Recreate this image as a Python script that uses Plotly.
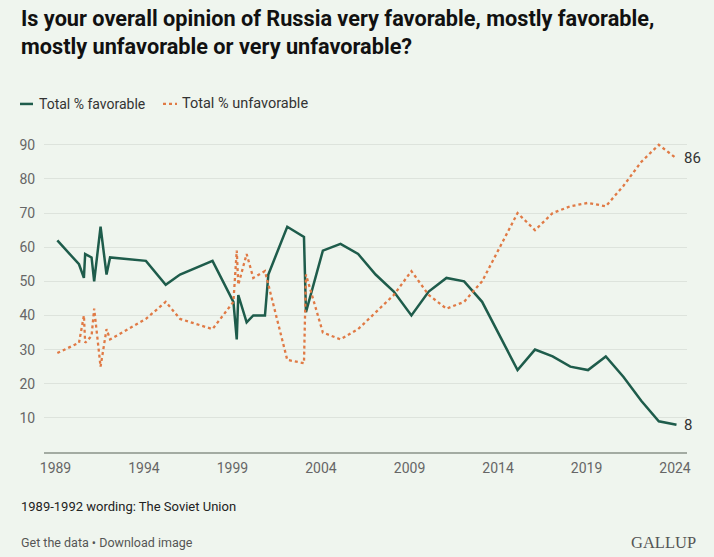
import plotly.graph_objects as go
import pandas as pd

# ---- data ----
poll_dates = ["1989-02-08", "1990-05-01", "1990-08-10", "1990-09-05", "1991-01-15",
              "1991-03-10", "1991-07-20", "1991-11-20", "1992-02-01", "1994-02-10",
              "1995-03-25", "1996-01-15", "1997-11-15", "1999-01-20", "1999-03-30",
              "1999-05-01", "1999-10-20", "2000-03-05", "2000-11-01", "2001-01-10",
              "2002-02-04", "2003-01-15", "2003-02-25", "2004-02-09", "2005-02-07",
              "2006-02-06", "2007-02-01", "2008-02-11", "2009-02-09", "2010-02-01",
              "2011-02-02", "2012-02-02", "2013-02-07", "2014-02-06", "2015-02-08",
              "2016-02-03", "2017-02-01", "2018-02-01", "2019-02-01", "2020-02-03",
              "2021-02-03", "2022-02-03", "2023-02-01", "2024-02-01"]
favorable = [62, 55, 51, 58, 57, 50, 66, 52, 57, 56,
             49, 52, 56, 44, 33, 46, 38, 40, 40, 52,
             66, 63, 41, 59, 61, 58, 52, 47, 40, 47,
             51, 50, 44, 34, 24, 30, 28, 25, 24, 28,
             22, 15, 9, 8]
unfavorable = [29, 32, 40, 32, 34, 42, 25, 36, 33, 39,
               44, 39, 36, 44, 59, 49, 58, 51, 53, 49,
               27, 26, 52, 35, 33, 36, 41, 46, 53, 46,
               42, 44, 50, 60, 70, 65, 70, 72, 73, 72,
               78, 85, 90, 86]
tick_years = ["1989", "1994", "1999", "2004", "2009", "2014", "2019", "2024"]
y_ticks = [10, 20, 30, 40, 50, 60, 70, 80, 90]

series_names = ["Total % favorable", "Total % unfavorable"]
title_text = ("Is your overall opinion of Russia very favorable, mostly favorable,<br>"
              "mostly unfavorable or very unfavorable?")
note_text = "1989-1992 wording: The Soviet Union"
links_text = "Get the data \u2022 Download image"
brand_text = "GALLUP"

# ---- style ----
GREEN = "#1e5c4b"
ORANGE = "#e07a45"
BG = "#eff5ee"
FONT = "Roboto"

W, H = 714, 557
L, R, T, B = 44, 687, 138.1, 452.5


def px_x(px):
    return (px - L) / (R - L)


def px_y(py):
    return (B - py) / (B - T)


# x range so that Jan-1 ticks land where the reference puts them
t0 = pd.Timestamp("1989-01-01")
t1 = pd.Timestamp("2024-01-01")
px0, px1 = 55.5, 675.0
per_px = (t1 - t0) / (px1 - px0)
x_lo = t0 - per_px * (px0 - L)
x_hi = t1 + per_px * (R - px1)

fig = go.Figure()
fig.add_trace(go.Scatter(x=poll_dates, y=favorable, mode="lines", name=series_names[0],
                         line=dict(color=GREEN, width=2.5), showlegend=False))
fig.add_trace(go.Scatter(x=poll_dates, y=unfavorable, mode="lines", name=series_names[1],
                         line=dict(color=ORANGE, width=2.3, dash="dot"), showlegend=False))

# end labels
fig.add_annotation(x=poll_dates[-1], y=unfavorable[-1], text=str(unfavorable[-1]),
                   xanchor="left", yanchor="middle", xshift=5, showarrow=False,
                   font=dict(family=FONT, size=15, color="#333333"))
fig.add_annotation(x=poll_dates[-1], y=favorable[-1], text=str(favorable[-1]),
                   xanchor="left", yanchor="middle", xshift=5, showarrow=False,
                   font=dict(family=FONT, size=15, color="#333333"))

# title
fig.add_annotation(xref="paper", yref="paper", x=px_x(19), y=px_y(4), text=title_text,
                   xanchor="left", yanchor="top", align="left", showarrow=False,
                   font=dict(family=FONT, size=21.7, color="#111111", weight="bold"))

# custom legend
fig.add_shape(type="line", xref="paper", yref="paper", x0=px_x(20), x1=px_x(33),
              y0=px_y(104), y1=px_y(104), line=dict(color=GREEN, width=2.5))
fig.add_annotation(xref="paper", yref="paper", x=px_x(37), y=px_y(104), text=series_names[0],
                   xanchor="left", yanchor="middle", showarrow=False,
                   font=dict(family=FONT, size=14, color="#333333"))
fig.add_shape(type="line", xref="paper", yref="paper", x0=px_x(163), x1=px_x(177),
              y0=px_y(104), y1=px_y(104), line=dict(color=ORANGE, width=2.3, dash="dot"))
fig.add_annotation(xref="paper", yref="paper", x=px_x(180), y=px_y(104), text=series_names[1],
                   xanchor="left", yanchor="middle", showarrow=False,
                   font=dict(family=FONT, size=14.5, color="#333333"))

# footer
fig.add_annotation(xref="paper", yref="paper", x=px_x(19), y=px_y(507), text=note_text,
                   xanchor="left", yanchor="middle", showarrow=False,
                   font=dict(family=FONT, size=13, color="#222222"))
fig.add_annotation(xref="paper", yref="paper", x=px_x(19), y=px_y(543), text=links_text,
                   xanchor="left", yanchor="middle", showarrow=False,
                   font=dict(family=FONT, size=12.5, color="#555555"))
fig.add_annotation(xref="paper", yref="paper", x=px_x(698), y=px_y(543), text=brand_text,
                   xanchor="right", yanchor="middle", showarrow=False,
                   font=dict(family="Liberation Serif", size=16.5, color="#555555"))

fig.update_layout(
    width=W, height=H,
    margin=dict(l=L, r=W - R, t=T, b=H - B, pad=0),
    paper_bgcolor=BG, plot_bgcolor=BG,
    font=dict(family=FONT),
    hovermode=False,
)
fig.update_xaxes(type="date", range=[x_lo, x_hi],
                 tickvals=[f"{y}-01-01" for y in tick_years], ticktext=tick_years,
                 showgrid=False, zeroline=False, showline=True, linecolor="#a3aba2", linewidth=2,
                 ticks="", ticklabelstandoff=2,
                 tickfont=dict(family=FONT, size=14, color="#666666"))
fig.update_yaxes(range=[0, 92], tickvals=y_ticks, showgrid=True, gridcolor="#dde3dc", gridwidth=1,
                 zeroline=False, showline=False,
                 ticks="outside", ticklen=5, tickcolor="rgba(0,0,0,0)",
                 tickfont=dict(family=FONT, size=14, color="#666666"))

fig.write_html("out.html",
               config={"displayModeBar": False, "staticPlot": True},
               post_script="document.body.style.margin='0';"
                           "document.body.style.background='" + BG + "';")
